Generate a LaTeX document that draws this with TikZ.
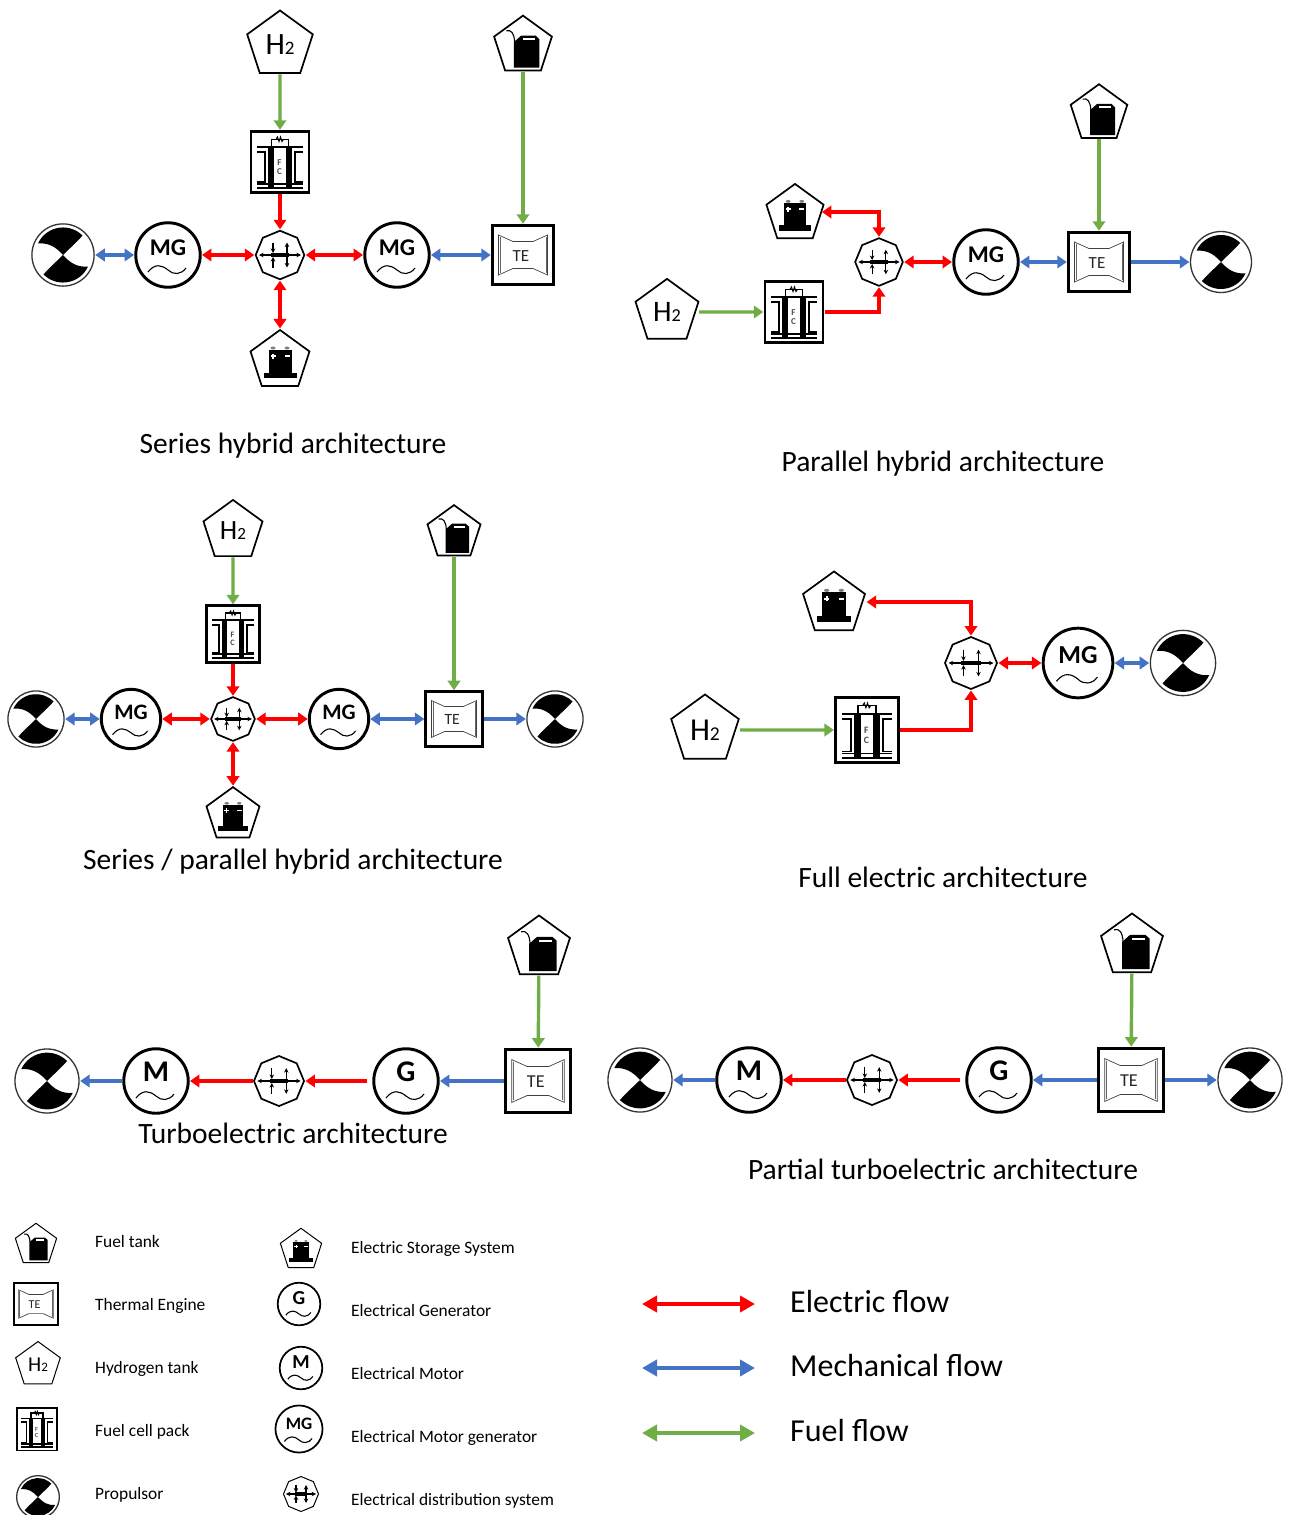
\documentclass[tikz,border=0pt]{standalone}
\usepackage{fontspec}
\setmainfont{Carlito}
\usetikzlibrary{arrows.meta,shapes.geometric}

\definecolor{elecred}{HTML}{FF0000}
\definecolor{mechblue}{HTML}{4472C4}
\definecolor{fuelgreen}{HTML}{70AD47}

\newcommand{\lettermg}{\fontsize{24}{24}\selectfont MG}
\newcommand{\letterg}{\fontsize{30}{30}\selectfont G}
\newcommand{\letterm}{\fontsize{30}{30}\selectfont M}

\tikzset{
    >={Triangle[width=12.5pt,length=9.5pt]},
    elec/.style={draw=elecred, line width=3.4pt, shorten >=.5pt, shorten <=.5pt},
    mech/.style={draw=mechblue, line width=3.4pt, shorten >=.5pt, shorten <=.5pt},
    fuel/.style={draw=fuelgreen, line width=3.4pt, shorten >=.5pt, shorten <=.5pt},
    big/.style={line width=1.7pt},
    small/.style={line width=1pt},
    heavy/.style={line width=1.2*\pgflinewidth},
    title/.style={anchor=base, font=\fontsize{29.5}{34}\selectfont},
    legtext/.style={anchor=base west, inner sep=0pt, font=\fontsize{17.4}{20}\selectfont},
    flowtext/.style={anchor=base west, inner sep=0pt, font=\fontsize{32}{36}\selectfont},
    tankbody/.style={regular polygon, regular polygon sides=5, draw, inner sep=0pt, transform shape},
    pics/htank/.style={code={
        \node[tankbody, minimum size=69pt, font=\fontsize{31}{31}\selectfont] (-o) {H{\fontsize{19}{19}\selectfont 2}};
    }},
    pics/ftank/.style={code={
        \node[tankbody, minimum size=62pt] (-o) {};
        \fill (-9.3,-22) -- (16.7,-22) -- (16.7,7) -- (13,10.5) -- (-2,10.5) -- (-9.3,4) -- cycle;
        \fill[white] (0,6) rectangle (12,8);
        \draw[line width=1.1pt] (-17,15.5) .. controls (-12,17) and (-9,13) .. (-8.5,4);
    }},
    pics/batt/.style={code={
        \node[tankbody, minimum size=62pt] (-o) {};
        \fill (-11.5,-12) rectangle (11.5,11);
        \fill (-16.5,-11.7) rectangle (16.5,-17.3);
        \fill[gray] (-7,13) ellipse (2.5 and 1.5);
        \fill[gray] (7,13) ellipse (2.5 and 1.5);
        \fill[white] (-9.5,4.2) rectangle (-4.5,5.8);
        \fill[white] (-7.8,2.5) rectangle (-6.2,7.5);
        \fill[white] (4.5,4.2) rectangle (9.5,5.8);
    }},
    pics/fcpack/.style={code={
        \node[draw, heavy, rectangle, minimum width=58pt, minimum height=61pt, inner sep=0pt, transform shape] (-o) {};
        \fill (-12,15) rectangle (-6,-25);
        \fill (6,15) rectangle (12,-25);
        \draw[line width=1.7pt] (-22.7,15) -- (22.7,15);
        \draw[line width=1.7pt] (-22.7,-21.7) -- (22.7,-21.7);
        \draw[line width=1.7pt] (-22.7,-25.7) -- (22.7,-25.7);
        \draw[line width=1.5pt] (-8.3,15) -- (-8.3,22.7) -- (8.3,22.7) -- (8.3,15);
        \draw[line width=1pt] (-4,22.7) -- (-2.5,25) -- (-1,20.5) -- (.5,25) -- (2,20.5) -- (3.5,22.7);
        \draw[line width=1.7pt] (-22.7,10) -- (-15,10) -- (-15,-20) -- (-22.7,-20);
        \draw[line width=1.7pt] (22.7,10) -- (15,10) -- (15,-20) -- (22.7,-20);
        \node[font=\fontsize{9}{8.5}\selectfont\bfseries, text=black!70, align=center, inner sep=0pt, transform shape] (-t) at (-.5,-5) {F\\C};
    }},
    pics/engine/.style={code={
        \node[draw, heavy, rectangle, minimum width=61pt, minimum height=59pt, inner sep=0pt, transform shape] (-o) {};
        \draw[line width=.7pt, black!75] (-24.5,20) -- (-10,13.5) -- (10,13.5) -- (24.5,20) -- (24.5,-20) -- (10,-13.5) -- (-10,-13.5) -- (-24.5,-20) -- cycle;
        \draw[line width=.5pt, black!60] (-23,18) -- (-23,-18);
        \draw[line width=.5pt, black!60] (23,18) -- (23,-18);
        \node[font=\fontsize{17}{17}\selectfont, text=black!85, inner sep=0pt, transform shape] (-t) at (-2,-1) {TE};
    }},
    pics/machine/.style={code={
        \node[draw, heavy, circle, minimum size=64.5pt, inner sep=0pt, text height=13pt, text depth=13pt, font=\bfseries, transform shape] (-o) {#1};
        \draw[line width=1.1pt] (-20,-17) .. controls (-13,-8) and (-6,-10) .. (0,-15) .. controls (5,-20) and (13,-20) .. (18,-13);
    }},
    pics/propulsor/.style={code={
        \node[draw, circle, minimum size=61pt, inner sep=0pt, line width=1.3pt, draw=black!80, transform shape] (-o) {};
        \foreach \a in {0,180} {
            \fill[rotate=\a] (0,0) .. controls (-7,8) and (-14,12) .. (155:27) arc[start angle=155, end angle=45, radius=27] .. controls (14,13) and (6,6) .. (0,0);
        }
    }},
    pics/distrib/.style={code={
        \node[regular polygon, regular polygon sides=8, shape border rotate=22.5, draw, minimum size=48.6pt, inner sep=0pt, transform shape] (-o) {};
        \fill (-9,-2.2) rectangle (9,2.2);
        \draw[line width=1.1pt, {Stealth[length=4.5pt,width=4.5pt]}-{Stealth[length=4.5pt,width=4.5pt]}] (-21,0) -- (21,0);
        \draw[line width=1.1pt, {Stealth[length=4.5pt,width=4.5pt]}-{Stealth[length=4.5pt,width=4.5pt]}] (7,-12.5) -- (7,12.5);
        \draw[line width=1.1pt, -{Stealth[length=4.5pt,width=4.5pt]}] (-7,12.5) -- (-7,2);
        \draw[line width=1.1pt, -{Stealth[length=4.5pt,width=4.5pt]}] (-7,-12.5) -- (-7,-2);
    }},
}

\begin{document}
\begin{tikzpicture}[x=1pt, y=1pt]
    \useasboundingbox (0,0) rectangle (1290,-1515);

    % series hybrid
    \pic[big] (aH) at (280,-45) {htank};
    \pic[big, scale=.98] (aF) at (523,-46) {ftank};
    \pic[big] (aC) at (280,-162) {fcpack};
    \pic[big] (aD) at (280,-255) {distrib};
    \pic[big] (aMa) at (168,-255) {machine=\lettermg};
    \pic[big] (aMb) at (397,-255) {machine=\lettermg};
    \pic[big] (aE) at (523,-255) {engine};
    \pic[big, scale=1.02] (aP) at (63,-255) {propulsor};
    \pic[big] (aB) at (280,-361) {batt};
    \draw[fuel,->] (aH-o) -- (aC-o);
    \draw[fuel,->] (aF-o) -- (aE-o);
    \draw[elec,->] (aC-o) -- (aD-o);
    \draw[elec,<->] (aD-o) -- (aB-o);
    \draw[elec,<->] (aD-o) -- (aMa-o);
    \draw[elec,<->] (aD-o) -- (aMb-o);
    \draw[mech,<->] (aP-o) -- (aMa-o);
    \draw[mech,<->] (aMb-o) -- (aE-o);
    \node[title] (aT) at (293,-453) {Series hybrid architecture};

    % parallel hybrid
    \pic[big, scale=.96] (bF) at (1099,-114) {ftank};
    \pic[big, scale=.96] (bH) at (667,-312) {htank};
    \pic[big, scale=.97] (bB) at (795,-214) {batt};
    \pic[big] (bC) at (794,-312) {fcpack};
    \pic[big, scale=.98] (bD) at (879,-262) {distrib};
    \pic[big] (bM) at (986,-262) {machine=\lettermg};
    \pic[big] (bE) at (1099,-262) {engine};
    \pic[big] (bP) at (1221,-262) {propulsor};
    \draw[fuel,->] (bF-o) -- (bE-o);
    \draw[fuel,->,shorten <=3pt] (bH-o) -- (bC-o);
    \draw[elec,<->] ([yshift=2pt]bB-o.east) -| (bD-o.north);
    \draw[elec,->] (bC-o.east) -| (bD-o.south);
    \draw[elec,<->] (bD-o) -- (bM-o);
    \draw[mech,<->] (bM-o) -- (bE-o);
    \draw[mech,->] (bE-o) -- (bP-o);
    \node[title] (bT) at (943,-471) {Parallel hybrid architecture};

    % series / parallel hybrid
    \pic[big, scale=.9] (cH) at (233,-531) {htank};
    \pic[big, scale=.9] (cF) at (454,-533) {ftank};
    \pic[big, scale=.92] (cC) at (233,-634) {fcpack};
    \pic[big, scale=.9] (cD) at (233,-719) {distrib};
    \pic[big, scale=.92] (cMa) at (131,-719) {machine=\lettermg};
    \pic[big, scale=.92] (cMb) at (339,-719) {machine=\lettermg};
    \pic[big, scale=.92] (cE) at (454,-719) {engine};
    \pic[big, scale=.92] (cPa) at (36,-719) {propulsor};
    \pic[big, scale=.92] (cPb) at (555,-719) {propulsor};
    \pic[big, scale=.9] (cB) at (233,-815) {batt};
    \draw[fuel,->] (cH-o) -- (cC-o);
    \draw[fuel,->] (cF-o) -- (cE-o);
    \draw[elec,->] (cC-o) -- (cD-o);
    \draw[elec,<->] (cD-o) -- (cB-o);
    \draw[elec,<->] (cD-o) -- (cMa-o);
    \draw[elec,<->] (cD-o) -- (cMb-o);
    \draw[mech,<->] (cPa-o) -- (cMa-o);
    \draw[mech,<->] (cMb-o) -- (cE-o);
    \draw[mech,->] (cE-o) -- (cPb-o);
    \node[title] (cT) at (293,-869) {Series / parallel hybrid architecture};

    % full electric
    \pic[big, scale=1.05] (dB) at (834,-604) {batt};
    \pic[big, scale=1.03] (dH) at (705,-730) {htank};
    \pic[big, scale=1.08] (dC) at (867,-730) {fcpack};
    \pic[big, scale=1.07] (dD) at (971,-663) {distrib};
    \pic[big, scale=1.08] (dM) at (1078,-663) {machine=\lettermg};
    \pic[big, scale=1.07] (dP) at (1183,-663) {propulsor};
    \draw[fuel,->,shorten <=4pt] (dH-o) -- (dC-o);
    \draw[elec,<->,shorten <=4pt] ([yshift=2pt]dB-o.east) -| (dD-o.north);
    \draw[elec,->] (dC-o.east) -| (dD-o.south);
    \draw[elec,<->] (dD-o) -- (dM-o);
    \draw[mech,<->] (dM-o) -- (dP-o);
    \node[title] (dT) at (943,-887) {Full electric architecture};

    % turboelectric
    \pic[big, scale=1.05] (eF) at (539,-948) {ftank};
    \pic[big, scale=1.07] (eE) at (538,-1081) {engine};
    \pic[big] (eG) at (406,-1081) {machine=\letterg};
    \pic[big, scale=1.03] (eD) at (279,-1081) {distrib};
    \pic[big] (eM) at (156,-1081) {machine=\letterm};
    \pic[big, scale=1.05] (eP) at (47,-1081) {propulsor};
    \draw[fuel,->] (eF-o) -- (eE-o);
    \draw[mech,->] (eE-o) -- (eG-o);
    \draw[elec,->,shorten <=6pt] (eG-o) -- (eD-o);
    \draw[elec,->] (eD-o) -- (eM-o);
    \draw[mech,->] (eM-o) -- (eP-o);
    \node[title] (eT) at (293,-1143) {Turboelectric architecture};

    % partial turboelectric
    \pic[big, scale=1.05] (fF) at (1132,-946) {ftank};
    \pic[big, scale=1.07] (fE) at (1131,-1080) {engine};
    \pic[big] (fG) at (999,-1080) {machine=\letterg};
    \pic[big, scale=1.03] (fD) at (872,-1080) {distrib};
    \pic[big] (fM) at (749,-1080) {machine=\letterm};
    \pic[big, scale=1.05] (fPa) at (640,-1080) {propulsor};
    \pic[big, scale=1.05] (fPb) at (1250,-1080) {propulsor};
    \draw[fuel,->] (fF-o) -- (fE-o);
    \draw[mech,->] (fE-o) -- (fG-o);
    \draw[mech,->] (fE-o) -- (fPb-o);
    \draw[elec,->,shorten <=6pt] (fG-o) -- (fD-o);
    \draw[elec,->] (fD-o) -- (fM-o);
    \draw[mech,->] (fM-o) -- (fPa-o);
    \node[title] (fT) at (943,-1179) {Partial turboelectric architecture};

    % legend
    \pic[small, scale=.7] (lF) at (36,-1245) {ftank};
    \pic[small, scale=.71] (lE) at (36,-1304) {engine};
    \pic[small, scale=.68] (lH) at (38,-1365) {htank};
    \pic[small, scale=.7] (lC) at (37,-1429) {fcpack};
    \pic[small, scale=.7] (lP) at (38,-1497) {propulsor};
    \pic[small, scale=.7] (lB) at (301,-1250) {batt};
    \pic[small, scale=.66] (lG) at (299,-1304) {machine=\letterg};
    \pic[small, scale=.66] (lM) at (301,-1368) {machine=\letterm};
    \pic[small, scale=.73] (lN) at (299,-1429) {machine=\lettermg};
    \pic[small, scale=.72] (lD) at (301,-1494) {distrib};
    \foreach \i/\y/\lab in {1/1247/Fuel tank,2/1310/Thermal Engine,3/1373/Hydrogen tank,4/1436/Fuel cell pack,5/1499/Propulsor} {
        \node[legtext] (ta\i) at (95,-\y) {\lab};
    }
    \foreach \i/\y/\lab in {1/1253/Electric Storage System,2/1316/Electrical Generator,3/1379/Electrical Motor,4/1442/Electrical Motor generator,5/1505/Electrical distribution system} {
        \node[legtext] (tb\i) at (351,-\y) {\lab};
    }
    \tikzset{>={Triangle[width=16pt,length=15pt]}}
    \foreach \i/\y/\kind/\lab in {1/1304/elec/Electric flow,2/1368/mech/Mechanical flow,3/1433/fuel/Fuel flow} {
        \coordinate (u\i) at (642,-\y);
        \coordinate (v\i) at (755,-\y);
        \draw[\kind,<->,line width=4pt,shorten >=0pt,shorten <=0pt] (u\i) -- (v\i);
        \node[flowtext] (tc\i) at (790,-\y-8) {\lab};
    }
\end{tikzpicture}
\end{document}
